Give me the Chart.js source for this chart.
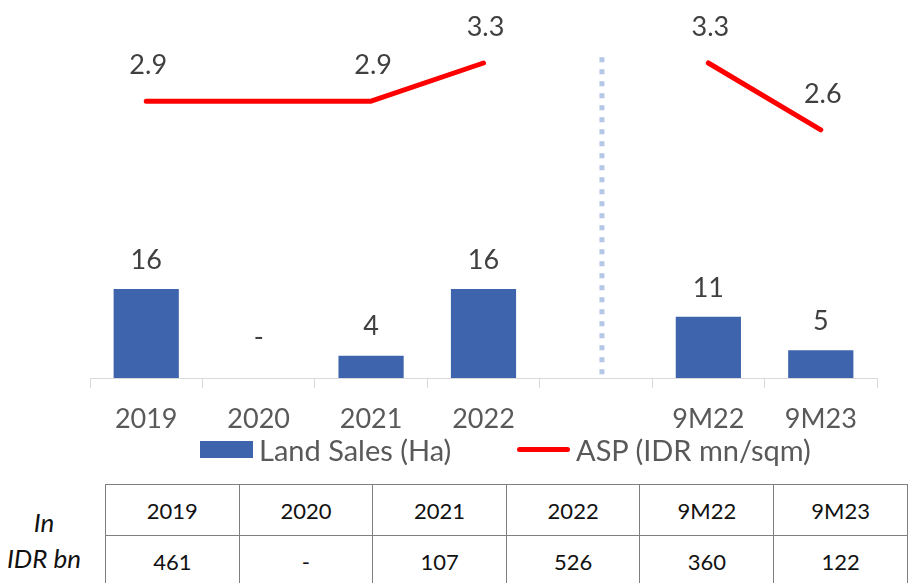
<!DOCTYPE html>
<html>
<head>
<meta charset="UTF-8">
<script src="https://cdn.jsdelivr.net/npm/chart.js@4.4.0/dist/chart.umd.min.js"></script>
<style>
  html, body { margin: 0; padding: 0; background: #fff; }
  body { width: 908px; height: 583px; position: relative; overflow: hidden; font-family: Lato, sans-serif; }
  #wrap { position: absolute; left: 0; top: 0; width: 908px; height: 440px; }
  .legend { position: absolute; top: 432px; height: 36px; font-size: 29px; color: #595959; line-height: 36px; }
  .legend .box { position: absolute; left: 0; top: 9px; width: 53px; height: 17px; background: #3d64ad; }
  .legend .ln { position: absolute; left: 0; top: 15px; width: 53px; height: 5px; background: #ff0000; border-radius: 3px; }
  .legend span { position: absolute; left: 59px; white-space: nowrap; }
  table { position: absolute; left: 105px; top: 484px; border-collapse: collapse; table-layout: fixed; }
  td { width: 134px; height: 50px; border: 1px solid #7f7f7f; text-align: center; font-size: 22px; color: #111; padding: 0; }
  .unit { position: absolute; left: 0; top: 504px; width: 88px; text-align: center; font-style: italic; font-size: 26px; line-height: 36px; color: #111; }
</style>
</head>
<body>
<div id="wrap"><canvas id="c" width="908" height="440"></canvas></div>
<div class="legend" style="left:200px"><div class="box"></div><span id="lg0"></span></div>
<div class="legend" style="left:517px"><div class="ln"></div><span id="lg1"></span></div>
<div class="unit">In<br>IDR bn</div>
<table id="tbl"></table>
<script>
// categories (blank slot separates full years from 9M figures)
const categories = ['2019', '2020', '2021', '2022', '', '9M22', '9M23'];
const landSales = [16, 0, 4, 16, null, 11, 5];          // Ha
const asp = [2.9, null, 2.9, 3.3, null, 3.3, 2.6];      // IDR mn/sqm
const seriesNames = ['Land Sales (Ha)', 'ASP (IDR mn/sqm)'];
const tableHeads = ['2019', '2020', '2021', '2022', '9M22', '9M23'];
const tableValues = ['461', '-', '107', '526', '360', '122'];

const BLUE = '#3d64ad';
const RED = '#ff0000';
const FONT = 'Lato, sans-serif';

document.getElementById('lg0').textContent = seriesNames[0];
document.getElementById('lg1').textContent = seriesNames[1];
const tbl = document.getElementById('tbl');
tbl.innerHTML = '<tr>' + tableHeads.map(t => '<td>' + t + '</td>').join('') + '</tr>' +
  '<tr>' + tableValues.map(t => '<td>' + t + '</td>').join('') + '</tr>';

const gapIndex = categories.indexOf('');

// value labels above bars and line points
const labelPlugin = {
  id: 'labels',
  afterDatasetsDraw(chart) {
    const ctx = chart.ctx;
    ctx.save();
    ctx.font = '27px ' + FONT;
    ctx.fillStyle = '#404040';
    ctx.textAlign = 'center';
    ctx.textBaseline = 'middle';
    chart.getDatasetMeta(0).data.forEach((el, i) => {
      const v = landSales[i];
      if (v === null) return;
      const txt = v === 0 ? '-' : String(v);
      ctx.fillText(txt, el.x, el.y - (v === 0 ? 41 : 29));
    });
    chart.getDatasetMeta(1).data.forEach((el, i) => {
      const v = asp[i];
      if (v === null) return;
      ctx.fillText(v.toFixed(1), el.x + 2, el.y - 36);
    });
    ctx.restore();
  }
};

// dotted divider in the blank slot
const dividerPlugin = {
  id: 'divider',
  beforeDatasetsDraw(chart) {
    const x = chart.scales.x.getPixelForValue(gapIndex) + 6;
    const y1 = chart.scales.y1;
    const ctx = chart.ctx;
    ctx.save();
    ctx.strokeStyle = '#b4c7e7';
    ctx.lineWidth = 5;
    ctx.setLineDash([5, 7]);
    ctx.beginPath();
    ctx.moveTo(x, y1.getPixelForValue(3.36));
    ctx.lineTo(x, chart.chartArea.bottom - 2);
    ctx.stroke();
    ctx.restore();
  }
};

// hide the line segment that would cross the blank slot
const crossesGap = c => c.p0DataIndex === gapIndex || c.p1DataIndex === gapIndex ||
  (c.p0DataIndex < gapIndex && c.p1DataIndex > gapIndex);

new Chart(document.getElementById('c'), {
  type: 'bar',
  data: {
    labels: categories,
    datasets: [
      {
        label: seriesNames[0],
        data: landSales,
        backgroundColor: BLUE,
        barPercentage: 0.58,
        categoryPercentage: 1,
        yAxisID: 'y',
        order: 2,
      },
      {
        label: seriesNames[1],
        type: 'line',
        data: asp,
        borderColor: RED,
        borderWidth: 5,
        borderCapStyle: 'round',
        borderJoinStyle: 'round',
        pointRadius: 0,
        spanGaps: true,
        segment: {
          borderColor: c => crossesGap(c) ? 'rgba(0,0,0,0)' : RED,
        },
        yAxisID: 'y1',
        order: 1,
      }
    ]
  },
  options: {
    responsive: false,
    animation: false,
    layout: { padding: { left: 90, right: 31, top: 0, bottom: 0 } },
    plugins: { legend: { display: false }, tooltip: { enabled: false } },
    scales: {
      x: {
        grid: { display: true, drawOnChartArea: false, drawTicks: true, tickLength: 10, color: '#d9d9d9', offset: true },
        border: { display: true, color: '#d9d9d9', width: 1 },
        ticks: { color: '#595959', font: { family: FONT, size: 27 }, padding: 15, maxRotation: 0, autoSkip: false },
        afterFit(scale) { scale.height = 62; },
      },
      y: { display: false, min: 0, max: 68 },
      y1: { display: false, min: 0, max: 3.96 },
    }
  },
  plugins: [labelPlugin, dividerPlugin]
});
</script>
</body>
</html>
